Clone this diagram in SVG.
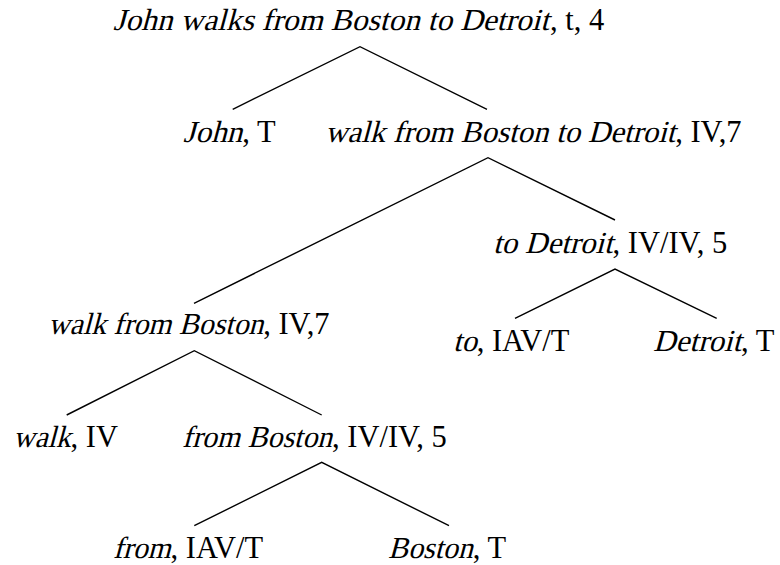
<svg xmlns="http://www.w3.org/2000/svg" width="780" height="565" viewBox="0 0 780 565">
<style>
text{font-family:"Liberation Serif","Times New Roman",serif;font-size:30.5px;fill:#000}
.edge{stroke:#000;stroke-width:1.4;fill:none}
</style>
<rect width="780" height="565" fill="#fff"/>
<g id="connectors">
<polyline class="edge" points="232.7,109.3 360,46.7 487,109.3"/>
<polyline class="edge" points="194,303.3 488,157.7 615,220"/>
<polyline class="edge" points="515,318.3 615,269 716.7,318.3"/>
<polyline class="edge" points="66.7,415 194.3,350.7 321.7,415"/>
<polyline class="edge" points="194.3,525.7 321.7,462.3 449,525.7"/>
</g>
<g id="n-root">
<text transform="translate(113,30) skewX(-15)" textLength="436" lengthAdjust="spacingAndGlyphs">John walks from Boston to Detroit</text>
<text x="550" y="30">, t, 4</text>
</g>
<g id="n-john">
<text transform="translate(183,142) skewX(-15)" textLength="59.3" lengthAdjust="spacingAndGlyphs">John</text>
<text x="242.3" y="142">, T</text>
</g>
<g id="n-wfbtd">
<text transform="translate(325,142) skewX(-15)" textLength="350.2" lengthAdjust="spacingAndGlyphs">walk from Boston to Detroit</text>
<text x="675.2" y="142">, IV,7</text>
</g>
<g id="n-todetroit">
<text transform="translate(493,253) skewX(-15)" textLength="119.5" lengthAdjust="spacingAndGlyphs">to Detroit</text>
<text x="612.5" y="253">, IV/IV, 5</text>
</g>
<g id="n-wfb">
<text transform="translate(48,334) skewX(-15)" textLength="215.2" lengthAdjust="spacingAndGlyphs">walk from Boston</text>
<text x="263.2" y="334">, IV,7</text>
</g>
<g id="n-to">
<text transform="translate(453,351) skewX(-15)" textLength="23.7" lengthAdjust="spacingAndGlyphs">to</text>
<text x="476.7" y="351">, IAV/T</text>
</g>
<g id="n-detroit">
<text transform="translate(653,351) skewX(-15)" textLength="88.1" lengthAdjust="spacingAndGlyphs">Detroit</text>
<text x="741.1" y="351">, T</text>
</g>
<g id="n-walk">
<text transform="translate(13,447) skewX(-15)" textLength="57.6" lengthAdjust="spacingAndGlyphs">walk</text>
<text x="70.6" y="447">, IV</text>
</g>
<g id="n-fromboston">
<text transform="translate(182,447) skewX(-15)" textLength="150" lengthAdjust="spacingAndGlyphs">from Boston</text>
<text x="332" y="447">, IV/IV, 5</text>
</g>
<g id="n-from">
<text transform="translate(113,558) skewX(-15)" textLength="57.6" lengthAdjust="spacingAndGlyphs">from</text>
<text x="170.6" y="558">, IAV/T</text>
</g>
<g id="n-boston">
<text transform="translate(388,558) skewX(-15)" textLength="84.7" lengthAdjust="spacingAndGlyphs">Boston</text>
<text x="472.7" y="558">, T</text>
</g>
</svg>
